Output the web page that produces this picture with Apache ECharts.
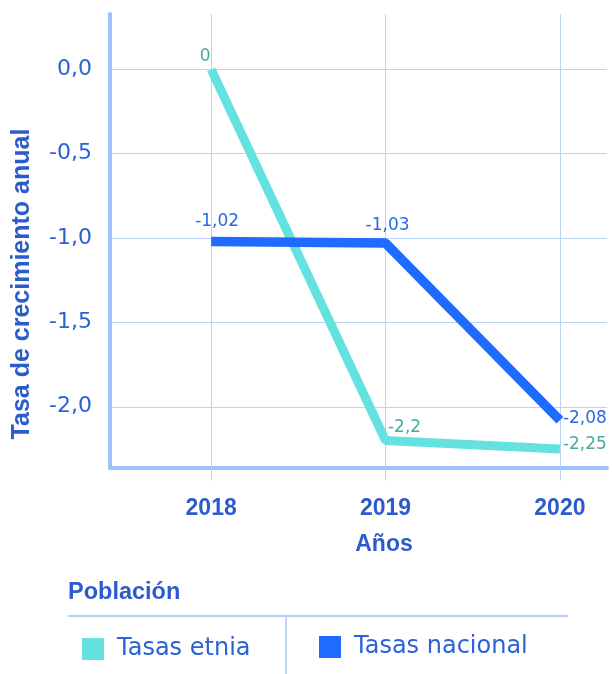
<!DOCTYPE html>
<html>
<head>
<meta charset="utf-8">
<script src="https://cdn.jsdelivr.net/npm/echarts@6/dist/echarts.min.js"></script>
<style>
html,body{margin:0;padding:0;background:#ffffff;}
#chart{width:612px;height:674px;}
</style>
</head>
<body>
<div id="chart"></div>
<script>
// ---- data ----
const years = [2018, 2019, 2020];
const tasasEtnia = [0, -2.2, -2.25];
const tasasNacional = [-1.02, -1.03, -2.08];
const yTicks = [0, -0.5, -1, -1.5, -2];
const seriesNames = ['Tasas etnia', 'Tasas nacional'];

// ---- styles ----
const BLUE_TEXT = '#2b62d6';
const BOLD_TEXT = '#2c5bcc';
const GRID_COLOR = '#bcd1f8';
const AXIS_COLOR = '#9ec1fa';
const ETNIA_COLOR = '#63e2e0';
const ETNIA_LABEL = '#48ab9f';
const NAC_COLOR = '#1f6bff';
const NAC_LABEL = '#2a68e6';
const REG_FONT = 'DejaVu Sans';
const BOLD_FONT = 'Liberation Sans';

const etniaLabelLayout = [
  {position: 'top', distance: 4, offset: [-6, 0]},
  {position: 'top', distance: 4, offset: [19, 0]},
  {position: 'right', distance: 3, offset: [0, -4]}
];
const nacLabelLayout = [
  {position: 'top', distance: 11, offset: [6, 0]},
  {position: 'top', distance: 9, offset: [2, 0]},
  {position: 'right', distance: 3, offset: [0, -2]}
];

function fmt(v) { return String(v).replace('.', ','); }

function buildData(vals, layout) {
  return years.map((yr, i) => ({
    value: [yr, vals[i]],
    label: layout[i]
  }));
}

const chart = echarts.init(document.getElementById('chart'), null, {renderer: 'canvas'});

const option = {
  animation: false,
  backgroundColor: '#ffffff',
  grid: {left: 110, right: 5, top: 14, bottom: 206.5, containLabel: false},
  xAxis: {
    type: 'value',
    min: 2017.42,
    max: 2020.27,
    axisLine: {show: true, onZero: false, lineStyle: {color: AXIS_COLOR, width: 4}},
    axisTick: {show: true, length: 13, customValues: years, lineStyle: {color: GRID_COLOR, width: 1}},
    axisLabel: {
      customValues: years,
      margin: 30,
      color: BOLD_TEXT,
      fontFamily: BOLD_FONT,
      fontWeight: 'bold',
      fontSize: 23,
      formatter: v => String(v)
    },
    splitLine: {show: true, lineStyle: {color: GRID_COLOR, width: 1}}
  },
  yAxis: {
    type: 'value',
    min: -2.36,
    max: 0.328,
    axisLine: {show: true, onZero: false, lineStyle: {color: AXIS_COLOR, width: 4}},
    axisTick: {show: false, customValues: yTicks},
    axisLabel: {
      customValues: yTicks,
      margin: 18,
      color: BLUE_TEXT,
      fontFamily: REG_FONT,
      fontSize: 22,
      formatter: v => v.toFixed(1).replace('.', ',')
    },
    splitLine: {show: true, lineStyle: {color: GRID_COLOR, width: 1}}
  },
  legend: [
    {
      data: [seriesNames[0]],
      left: 77, top: 632,
      icon: 'rect', itemWidth: 22, itemHeight: 22,
      textStyle: {color: BLUE_TEXT, fontFamily: REG_FONT, fontSize: 24, padding: [0, 0, 0, 8]}
    },
    {
      data: [seriesNames[1]],
      left: 314, top: 630,
      icon: 'rect', itemWidth: 22, itemHeight: 22,
      textStyle: {color: BLUE_TEXT, fontFamily: REG_FONT, fontSize: 24, padding: [0, 0, 0, 8]}
    }
  ],
  graphic: [
    {
      type: 'text', x: 22, y: 284, rotation: Math.PI / 2,
      style: {text: 'Tasa de crecimiento anual', fill: BOLD_TEXT, font: 'bold 25px "Liberation Sans"', align: 'center', verticalAlign: 'middle'}
    },
    {
      type: 'text', x: 384, y: 545,
      style: {text: 'Años', fill: BOLD_TEXT, font: 'bold 23px "Liberation Sans"', align: 'center', verticalAlign: 'middle'}
    },
    {
      type: 'text', x: 68, y: 593,
      style: {text: 'Población', fill: BOLD_TEXT, font: 'bold 23.5px "Liberation Sans"', align: 'left', verticalAlign: 'middle'}
    },
    {
      type: 'line', shape: {x1: 68, y1: 616, x2: 568, y2: 616},
      style: {stroke: '#b6cff9', lineWidth: 2}
    },
    {
      type: 'line', shape: {x1: 286, y1: 617, x2: 286, y2: 674},
      style: {stroke: '#a9c6f9', lineWidth: 1.5}
    }
  ],
  series: [
    {
      name: seriesNames[0],
      type: 'line',
      data: buildData(tasasEtnia, etniaLabelLayout),
      symbol: 'circle',
      symbolSize: 0.01,
      showSymbol: true,
      clip: false,
      z: 2,
      itemStyle: {color: ETNIA_COLOR},
      lineStyle: {color: ETNIA_COLOR, width: 9},
      label: {show: true, color: ETNIA_LABEL, fontFamily: REG_FONT, fontSize: 17,
        formatter: p => fmt(p.value[1])}
    },
    {
      name: seriesNames[1],
      type: 'line',
      data: buildData(tasasNacional, nacLabelLayout),
      symbol: 'circle',
      symbolSize: 0.01,
      showSymbol: true,
      clip: false,
      z: 3,
      itemStyle: {color: NAC_COLOR},
      lineStyle: {color: NAC_COLOR, width: 9.5},
      label: {show: true, color: NAC_LABEL, fontFamily: REG_FONT, fontSize: 17,
        formatter: p => fmt(p.value[1])}
    }
  ]
};

chart.setOption(option);
</script>
</body>
</html>
